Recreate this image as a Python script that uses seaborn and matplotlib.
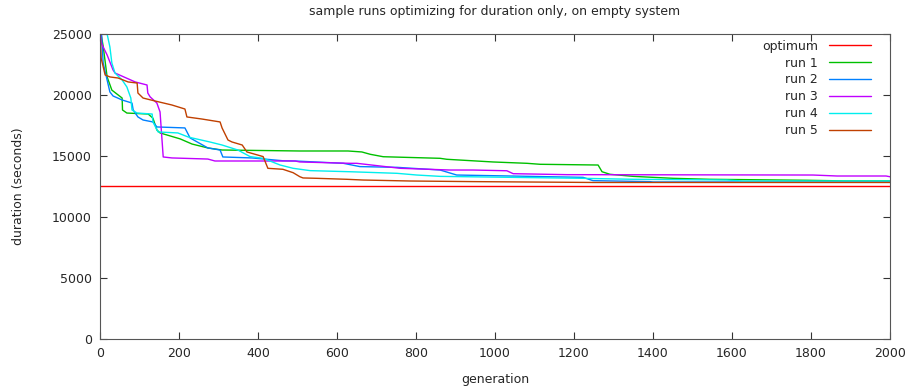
import seaborn as sns
import numpy as np
import pandas as pd
import matplotlib.pyplot as plt

# values (generation, best duration in seconds)
optimum_gen = [0, 2000]
optimum_dur = [12570, 12570]

run1_gen = [0, 8, 18, 30, 56, 57, 68, 122, 134, 144, 152, 203, 233, 273, 309, 506, 628, 663,
            684, 717, 861, 878, 995, 1081, 1114, 1261, 1271, 1291, 1350, 1451, 1544, 1790, 1881, 2000]
run1_dur = [25500, 24000, 21480, 20400, 19750, 18770, 18520, 18440, 18100, 17130, 16890, 16400,
            15980, 15660, 15490, 15410, 15410, 15330, 15140, 14940, 14810, 14730, 14510, 14400,
            14320, 14260, 13710, 13500, 13330, 13170, 13090, 13010, 12960, 12960]

run2_gen = [3, 8, 18, 25, 33, 56, 81, 84, 96, 109, 134, 144, 215, 228, 273, 304, 311, 385, 463,
            494, 616, 658, 752, 861, 903, 1223, 1248, 1392, 1400, 2000]
run2_dur = [25500, 22620, 21230, 20250, 19920, 19590, 19340, 18770, 18200, 17950, 17790, 17380,
            17300, 16480, 15660, 15490, 14920, 14840, 14610, 14590, 14400, 14130, 14070, 13850,
            13440, 13250, 12980, 12900, 12870, 12870]

run3_gen = [0, 3, 18, 33, 38, 89, 119, 121, 127, 144, 152, 160, 182, 273, 291, 494, 506, 633,
            650, 760, 886, 944, 1030, 1046, 1182, 1805, 1866, 1990, 2000]
run3_dur = [25500, 24260, 23280, 22050, 21800, 21070, 20820, 20160, 19840, 19340, 18610, 14920,
            14840, 14750, 14590, 14590, 14510, 14400, 14400, 13990, 13850, 13850, 13790, 13550,
            13470, 13440, 13360, 13360, 13300]

run4_gen = [10, 18, 25, 30, 38, 56, 68, 78, 81, 94, 132, 134, 147, 197, 223, 233, 278, 309, 349,
            380, 413, 456, 489, 532, 633, 752, 802, 861, 1223, 1350, 1587, 1628, 2000]
run4_dur = [25500, 25000, 23940, 22620, 21800, 21230, 20660, 19750, 18770, 18520, 18440, 17790,
            16970, 16890, 16560, 16480, 16150, 15900, 15490, 14950, 14810, 14260, 13990, 13800,
            13710, 13580, 13440, 13330, 13170, 13090, 13030, 12950, 12950]

run5_gen = [0, 3, 13, 25, 46, 71, 94, 96, 109, 139, 182, 215, 220, 258, 304, 309, 324, 334, 360,
            372, 413, 425, 463, 489, 506, 514, 549, 625, 666, 785, 944, 1248, 2000]
run5_dur = [25500, 23000, 21640, 21480, 21390, 21070, 20980, 20160, 19750, 19510, 19180, 18850,
            18200, 18030, 17790, 17300, 16310, 16150, 15900, 15330, 14950, 13990, 13910, 13630,
            13300, 13200, 13170, 13090, 13030, 12950, 12900, 12830, 12830]

series = [
    ("optimum", optimum_gen, optimum_dur, "#ff0000"),
    ("run 1", run1_gen, run1_dur, "#00c000"),
    ("run 2", run2_gen, run2_dur, "#0080ff"),
    ("run 3", run3_gen, run3_dur, "#c000ff"),
    ("run 4", run4_gen, run4_dur, "#00eeee"),
    ("run 5", run5_gen, run5_dur, "#c04000"),
]

sns.set_style('ticks')
plt.rcParams['font.family'] = ['DejaVu Sans']
plt.rcParams['font.size'] = 9

fig = plt.figure(figsize=(9.1, 3.92), dpi=100)
ax = fig.add_axes([0.1099, 0.1352, 0.8681, 0.7781])

for name, g, d, c in series:
    df = pd.DataFrame({"generation": g, "duration": d})
    sns.lineplot(data=df, x="generation", y="duration", ax=ax, color=c, linewidth=1.0,
                 estimator=None, sort=False, label=name)

ax.set_xlim(0, 2000)
ax.set_ylim(0, 25000)
ax.set_xticks(np.arange(0, 2001, 200))
ax.set_yticks(np.arange(0, 25001, 5000))
ax.tick_params(direction='in', top=True, right=True, length=5, width=0.8,
               color='#333333', labelsize=9, pad=6)
for s in ax.spines.values():
    s.set_color('#555555')
    s.set_linewidth(0.8)

ax.set_xlabel("generation", fontsize=9, labelpad=9)
ax.set_ylabel("duration (seconds)", fontsize=9, labelpad=19)
ax.set_title("sample runs optimizing for duration only, on empty system", fontsize=9, pad=14)

leg = ax.legend(loc='upper right', bbox_to_anchor=(1 - 10 / 790, 1 + 3 / 305), frameon=False,
                markerfirst=False, fontsize=9, handlelength=3.4, labelspacing=0.31,
                borderaxespad=0.3, handletextpad=0.85)
for t in leg.get_texts():
    t.set_ha('right')
leg._legend_box.align = 'right'

fig.savefig("out.png", dpi=100)
